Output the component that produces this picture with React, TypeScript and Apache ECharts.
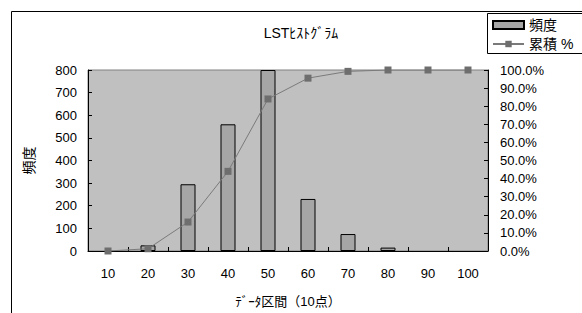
import React, { useEffect, useRef } from "react";
import * as echarts from "echarts";

const categories = ["10", "20", "30", "40", "50", "60", "70", "80", "90", "100"];
const frequency = [0, 25, 295, 560, 800, 230, 75, 15, 0, 0];
const cumulative = [0, 1.25, 16.0, 44.0, 84.0, 95.5, 99.25, 100, 100, 100];
const titleText = "LSTﾋｽﾄｸﾞﾗﾑ";
const xName = "ﾃﾞｰﾀ区間（10点）";
const yName = "頻度";
const barName = "頻度";
const lineName = "累積 %";

const FONT = "'Liberation Sans', 'Noto Sans CJK JP', sans-serif";

export default function App() {
  const ref = useRef<HTMLDivElement>(null);
  useEffect(() => {
    if (!ref.current) return;
    const chart = echarts.init(ref.current, null, { renderer: "svg" });
    chart.setOption({
      animation: false,
      backgroundColor: "#ffffff",
      textStyle: { fontFamily: FONT, color: "#000" },
      title: {
        text: titleText,
        left: 296,
        top: 21,
        textAlign: "center",
        textStyle: { fontSize: 14, fontWeight: "normal", color: "#000", fontFamily: FONT },
      },
      legend: {
        orient: "vertical",
        left: 492,
        top: 14,
        padding: [4, 4, 4, 0],
        itemWidth: 31,
        itemHeight: 8,
        itemGap: 5,
        textStyle: { fontSize: 14, color: "#000", fontFamily: FONT },
        data: [{ name: barName, icon: "rect" }, { name: lineName }],
      },
      graphic: [
        {
          type: "rect",
          shape: { x: 11.5, y: 11.5, width: 700, height: 400 },
          style: { fill: "none", stroke: "#000", lineWidth: 1 },
          silent: true,
          z: -1,
        },
        {
          type: "rect",
          shape: { x: 487.5, y: 13.5, width: 120, height: 40 },
          style: { fill: "#fff", stroke: "#000", lineWidth: 1 },
          silent: true,
          z: 0,
        },
      ],
      grid: {
        left: 88,
        right: 94,
        top: 70,
        bottom: 61,
        show: true,
        backgroundColor: "#C0C0C0",
        borderColor: "#808080",
        borderWidth: 1,
      },
      xAxis: {
        type: "category",
        data: categories,
        boundaryGap: true,
        name: xName,
        nameLocation: "middle",
        nameGap: 44,
        nameTextStyle: { fontSize: 13, color: "#000", fontFamily: FONT },
        axisLine: { show: true, lineStyle: { color: "#000", width: 1 } },
        axisTick: { show: true, inside: true, length: 4, lineStyle: { color: "#000" } },
        axisLabel: { fontSize: 13, color: "#000", margin: 16, fontFamily: FONT },
        splitLine: { show: false },
      },
      yAxis: [
        {
          type: "value",
          min: 0,
          max: 800,
          interval: 100,
          name: yName,
          nameLocation: "middle",
          nameGap: 52,
          nameRotate: 90,
          nameTextStyle: { fontSize: 14, color: "#000", fontFamily: FONT },
          axisLine: { show: true, lineStyle: { color: "#000", width: 1 } },
          axisTick: { show: true, inside: true, length: 4, lineStyle: { color: "#000" } },
          axisLabel: { fontSize: 13, color: "#000", margin: 11, fontFamily: FONT },
          splitLine: { show: false },
        },
        {
          type: "value",
          min: 0,
          max: 100,
          interval: 10,
          position: "right",
          axisLine: { show: true, lineStyle: { color: "#000", width: 1 } },
          axisTick: { show: true, inside: true, length: 4, lineStyle: { color: "#000" } },
          axisLabel: {
            fontSize: 13,
            color: "#000",
            margin: 12,
            fontFamily: FONT,
            formatter: (v: number) => v.toFixed(1) + "%",
          },
          splitLine: { show: false },
        },
      ],
      series: [
        {
          name: barName,
          type: "bar",
          data: frequency.map((v) =>
            v === 0 ? { value: v, itemStyle: { borderWidth: 0, opacity: 0 } } : v
          ),
          barWidth: 15,
          yAxisIndex: 0,
          itemStyle: { color: "#A6A6A6", borderColor: "#000", borderWidth: 1 },
          z: 2,
        },
        {
          name: lineName,
          type: "line",
          data: cumulative,
          yAxisIndex: 1,
          symbol: "rect",
          symbolSize: 7,
          showSymbol: true,
          itemStyle: { color: "#6E6E6E" },
          lineStyle: { color: "#7A7A7A", width: 1 },
          z: 3,
        },
      ],
    });
    return () => chart.dispose();
  }, []);
  return (
    <div
      ref={ref}
      style={{ position: "fixed", left: 0, top: 0, width: 582, height: 313 }}
    />
  );
}
